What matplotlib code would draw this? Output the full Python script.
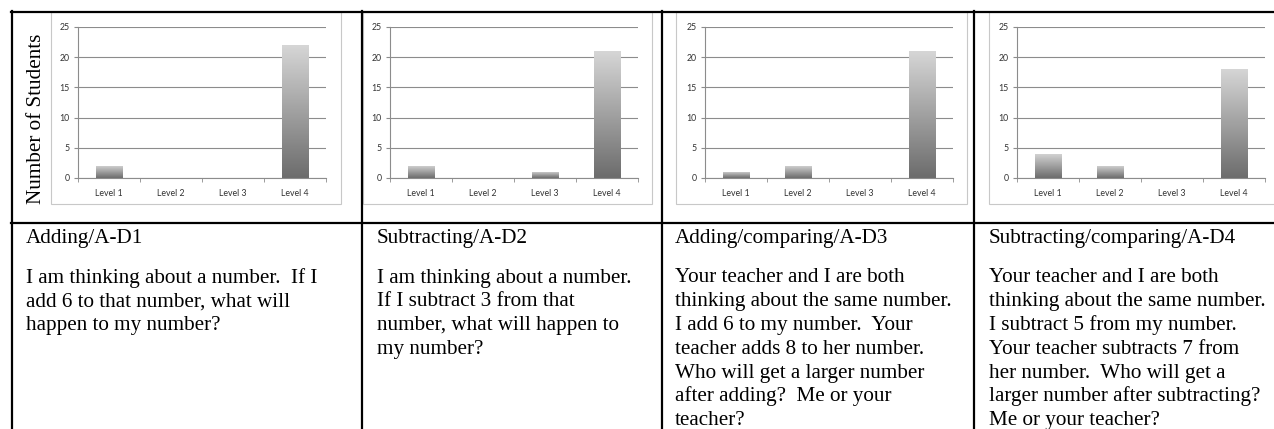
import numpy as np
import matplotlib
matplotlib.use("Agg")
import matplotlib.pyplot as plt
from matplotlib.patches import Rectangle
from matplotlib.colors import LinearSegmentedColormap

# data
levels = ["Level 1", "Level 2", "Level 3", "Level 4"]
counts_d1 = [2, 0, 0, 22]
counts_d2 = [2, 0, 1, 21]
counts_d3 = [1, 2, 0, 21]
counts_d4 = [4, 2, 0, 18]
y_ticks = [0, 5, 10, 15, 20, 25]

titles = ["Adding/A-D1", "Subtracting/A-D2",
          "Adding/comparing/A-D3", "Subtracting/comparing/A-D4"]
questions = [
    ["I am thinking about a number.  If I",
     "add 6 to that number, what will",
     "happen to my number?"],
    ["I am thinking about a number.",
     "If I subtract 3 from that",
     "number, what will happen to",
     "my number?"],
    ["Your teacher and I are both",
     "thinking about the same number.",
     "I add 6 to my number.  Your",
     "teacher adds 8 to her number.",
     "Who will get a larger number",
     "after adding?  Me or your",
     "teacher?"],
    ["Your teacher and I are both",
     "thinking about the same number.",
     "I subtract 5 from my number.",
     "Your teacher subtracts 7 from",
     "her number.  Who will get a",
     "larger number after subtracting?",
     "Me or your teacher?"],
]
all_counts = [counts_d1, counts_d2, counts_d3, counts_d4]

W, H = 1274, 429
fig = plt.figure(figsize=(W / 100, H / 100), dpi=100)

def box(x0, y0, x1, y1):
    return [x0 / W, 1 - y1 / H, (x1 - x0) / W, (y1 - y0) / H]

# page layer in pixel coords for table lines and text
page = fig.add_axes([0, 0, 1, 1])
page.set_xlim(0, W)
page.set_ylim(H, 0)
page.axis("off")

frames = [(51, 341), (363, 652), (676, 967), (989, 1300)]
plots = [(78, 326), (390, 638), (705, 953), (1017, 1265)]
text_x = [26, 377, 675, 989]
dividers = [12, 362, 662, 974]

for fx0, fx1 in frames:
    page.add_patch(Rectangle((fx0, 12), fx1 - fx0, 204 - 12, fill=False,
                             edgecolor="#c8c8c8", lw=0.8, zorder=1))

lw = 1.6
page.plot([11, W], [12, 12], color="black", lw=lw, zorder=3)
page.plot([11, W], [222.5, 222.5], color="black", lw=lw, zorder=3)
for x in dividers:
    page.plot([x, x], [11, H], color="black", lw=lw, zorder=3)

serif = "Liberation Serif"
fs = 15.2
for i in range(4):
    page.text(text_x[i], 243, titles[i], family=serif, fontsize=fs,
              va="baseline", ha="left")
    for k, line in enumerate(questions[i]):
        page.text(text_x[i], 282.5 + 23.8 * k, line, family=serif,
                  fontsize=fs, va="baseline", ha="left")

page.text(37, 119, "Number of Students", family=serif, fontsize=fs,
          rotation=90, ha="center", va="center")

cmap = LinearSegmentedColormap.from_list("bar", ["#6c6c6c", "#d6d6d6"])
grad = np.linspace(0, 1, 256).reshape(-1, 1)

for i, counts in enumerate(all_counts):
    px0, px1 = plots[i]
    ax = fig.add_axes(box(px0, 27, px1, 178))
    ax.set_xlim(-0.5, 3.5)
    ax.set_ylim(0, 25)
    ax.patch.set_alpha(0)
    for s in ["top", "right"]:
        ax.spines[s].set_visible(False)
    for s in ["left", "bottom"]:
        ax.spines[s].set_color("#8c8c8c")
        ax.spines[s].set_linewidth(0.8)
    ax.set_yticks(y_ticks)
    ax.yaxis.grid(True, color="#8c8c8c", lw=0.8)
    ax.set_axisbelow(True)
    ax.set_xticks(range(len(levels)))
    ax.set_xticklabels(levels)
    ax.set_xticks(np.arange(-0.5, 4, 1), minor=True)
    ax.tick_params(axis="x", which="major", length=0, pad=8)
    ax.tick_params(axis="x", which="minor", length=3, color="#8c8c8c",
                   direction="out")
    ax.tick_params(axis="y", length=3, color="#8c8c8c", pad=3)
    for lab in ax.get_xticklabels() + ax.get_yticklabels():
        lab.set_family("Lato")
        lab.set_fontsize(6.3)
        lab.set_color("#333333")
    bars = ax.bar(range(len(levels)), counts, width=0.42, color="none",
                  edgecolor="none", zorder=2)
    for b in bars:
        h = b.get_height()
        if h <= 0:
            continue
        x0 = b.get_x()
        im = ax.imshow(grad, cmap=cmap, origin="lower", aspect="auto",
                       extent=(x0, x0 + b.get_width(), 0, h), zorder=2)
        im.set_clip_path(b)
    ax.set_xlim(-0.5, 3.5)
    ax.set_ylim(0, 25)

fig.savefig("out.png", dpi=100)
